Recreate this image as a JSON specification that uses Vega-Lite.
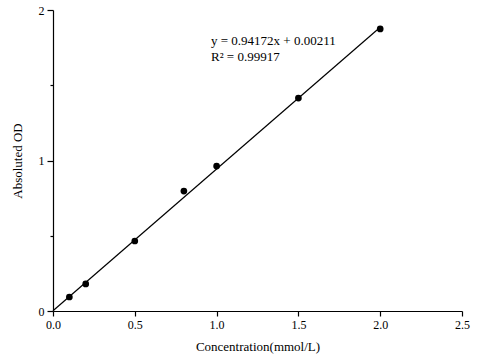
{
  "$schema": "https://vega.github.io/schema/vega-lite/v6.json",
  "width": 409,
  "height": 301,
  "autosize": {"type": "none"},
  "padding": {"left": 53, "top": 10, "right": 18, "bottom": 49},
  "background": "white",
  "config": {
    "view": {"stroke": null},
    "font": "Liberation Serif",
    "axis": {
      "grid": false,
      "domainColor": "black",
      "tickColor": "black",
      "labelColor": "black",
      "titleColor": "black",
      "labelFont": "Liberation Serif",
      "titleFont": "Liberation Serif",
      "labelFontSize": 12,
      "titleFontSize": 13,
      "titleFontWeight": "normal",
      "domainWidth": 1.2,
      "tickWidth": 1.2
    }
  },
  "datasets": {
    "points": [
      {"conc": 0.1, "od": 0.093},
      {"conc": 0.2, "od": 0.18},
      {"conc": 0.5, "od": 0.465},
      {"conc": 0.8, "od": 0.797},
      {"conc": 1.0, "od": 0.963},
      {"conc": 1.5, "od": 1.415},
      {"conc": 2.0, "od": 1.874}
    ],
    "fit": [
      {"conc": 0, "od": 0.00211},
      {"conc": 2, "od": 1.88555}
    ],
    "labels": [
      {"conc": 0.966, "od": 1.767, "text": "y = 0.94172x + 0.00211"},
      {"conc": 0.966, "od": 1.661, "text": "R² = 0.99917"}
    ]
  },
  "layer": [
    {
      "data": {"name": "fit"},
      "mark": {"type": "line", "color": "black", "strokeWidth": 1.2},
      "encoding": {
        "x": {
          "field": "conc", "type": "quantitative",
          "scale": {"domain": [0, 2.5], "nice": false, "zero": false},
          "axis": {
            "title": "Concentration(mmol/L)",
            "values": [0, 0.5, 1, 1.5, 2, 2.5],
            "format": ".1f",
            "tickSize": 5,
            "labelPadding": 3,
            "labelFlush": false,
            "titlePadding": 10
          }
        },
        "y": {
          "field": "od", "type": "quantitative",
          "scale": {"domain": [0, 2], "nice": false, "zero": false},
          "axis": {
            "title": "Absoluted OD",
            "values": [0, 0.5, 1, 1.5, 2],
            "labelExpr": "datum.value % 1 === 0 ? format(datum.value, 'd') : ''",
            "tickSize": {"condition": {"test": "datum.value % 1 === 0", "value": 6}, "value": 3},
            "labelPadding": 3,
            "labelFlush": false,
            "titlePadding": 14
          }
        }
      }
    },
    {
      "data": {"name": "points"},
      "mark": {"type": "circle", "color": "black", "opacity": 1, "size": 45},
      "encoding": {
        "x": {"field": "conc", "type": "quantitative"},
        "y": {"field": "od", "type": "quantitative"}
      }
    },
    {
      "data": {"name": "labels"},
      "mark": {"type": "text", "align": "left", "baseline": "alphabetic", "fontSize": 13, "font": "Liberation Serif", "color": "black"},
      "encoding": {
        "x": {"field": "conc", "type": "quantitative"},
        "y": {"field": "od", "type": "quantitative"},
        "text": {"field": "text"}
      }
    }
  ]
}
